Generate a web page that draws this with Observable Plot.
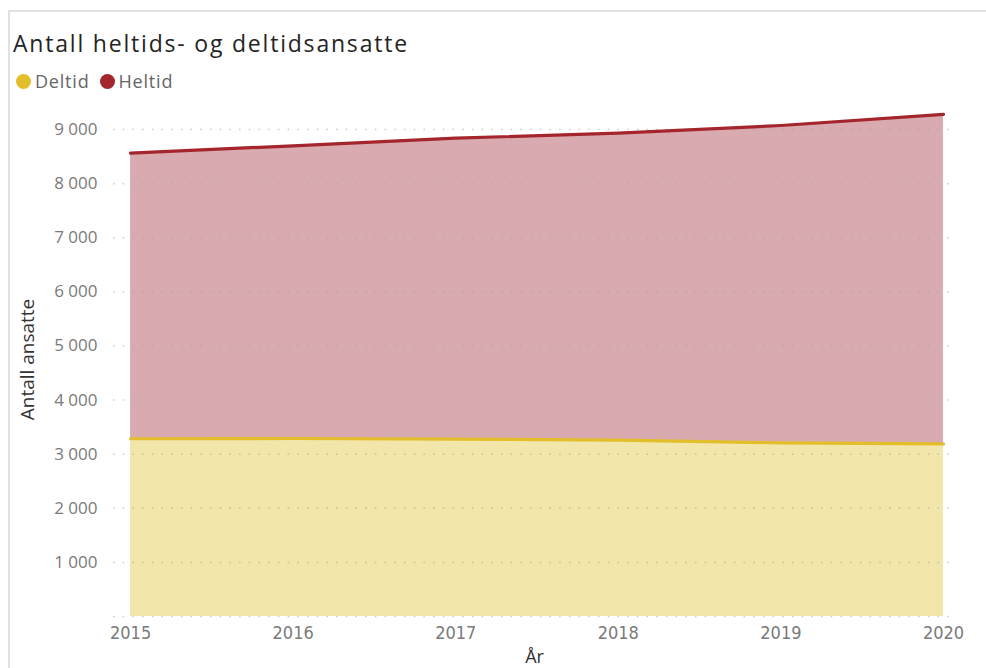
<!DOCTYPE html>
<html>
<head>
<meta charset="utf-8">
<script src="https://cdn.jsdelivr.net/npm/d3@7"></script>
<script src="https://cdn.jsdelivr.net/npm/@observablehq/plot@0.6"></script>
<style>
  html, body { margin: 0; padding: 0; background: #fff; }
  #wrap { position: relative; width: 986px; height: 668px; overflow: hidden; font-family: "Open Sans", sans-serif; }
  #frame { position: absolute; left: 8px; top: 10px; width: 990px; height: 670px; border-left: 2px solid #e0e0e0; border-top: 2px solid #e0e0e0; box-sizing: border-box; pointer-events: none; }
  #title { position: absolute; left: 13px; top: 27px; font-size: 23px; letter-spacing: 1.8px; color: #252423; white-space: nowrap; }
  #legend { position: absolute; left: 16px; top: 69px; font-size: 18px; letter-spacing: 0.8px; color: #666; display: flex; align-items: center; }
  #legend .dot { width: 15px; height: 15px; border-radius: 50%; display: inline-block; }
  #legend .item { display: flex; align-items: center; gap: 4px; margin-right: 10px; }
  #chart { position: absolute; left: 0; top: 0; }
</style>
</head>
<body>
<div id="wrap">
  <div id="chart"></div>
  <div id="frame"></div>
  <div id="title">Antall heltids- og deltidsansatte</div>
  <div id="legend"></div>
</div>
<script>
const years = [2015, 2016, 2017, 2018, 2019, 2020];
const deltid = [3285, 3290, 3280, 3260, 3210, 3190];
const heltid = [5280, 5410, 5560, 5675, 5865, 6090];
const seriesNames = ["Deltid", "Heltid"];
const lineColors = ["#E3BE2B", "#A4262C"];
const fillColors = ["#F2E6AB", "#D9ABB1"];
const yTicks = [0, 1000, 2000, 3000, 4000, 5000, 6000, 7000, 8000, 9000];

const data = [];
years.forEach((yr, i) => data.push({year: yr, series: "Deltid", value: deltid[i]}));
years.forEach((yr, i) => data.push({year: yr, series: "Heltid", value: heltid[i]}));

const fmt = d3.formatLocale({thousands: "\u00a0", grouping: [3], decimal: ","}).format(",");
const idx = d => seriesNames.indexOf(d.series);

// legend
const legend = document.getElementById("legend");
seriesNames.forEach((s, i) => {
  const item = document.createElement("span");
  item.className = "item";
  item.innerHTML = `<span class="dot" style="background:${lineColors[i]}"></span><span>${s}</span>`;
  legend.appendChild(item);
});

const chart = Plot.plot({
  width: 986,
  height: 668,
  marginLeft: 113,
  marginRight: 31,
  marginTop: 102,
  marginBottom: 52,
  style: {fontFamily: "'Open Sans', sans-serif", background: "transparent"},
  x: {domain: [2014.895, 2020.074]},
  y: {domain: [0, 9500]},
  marks: [
    Plot.areaY(data, Plot.stackY({x: "year", y: "value", z: "series", fill: {value: d => fillColors[idx(d)], scale: null}, order: null})),
    Plot.ruleY(yTicks, {stroke: "#a0a0a0", strokeOpacity: 0.55, strokeWidth: 1.5, strokeDasharray: "1.5 8.2"}),
    Plot.lineY(data, Plot.stackY2({x: "year", y: "value", z: "series", stroke: {value: d => lineColors[idx(d)], scale: null}, order: null, strokeWidth: 3.2, strokeLinecap: "round"})),
    Plot.axisX(years, {
      tickSize: 0, tickPadding: 10, tickFormat: d => String(d),
      fontSize: 18, fill: "#7a7a7a", fontFamily: "'DejaVu Sans Condensed', 'Liberation Sans Narrow', sans-serif",
      label: null
    }),
    Plot.axisX({
      ticks: [], label: "År", labelAnchor: "center", labelArrow: "none", labelOffset: 46,
      fontSize: 18, fill: "#333"
    }),
    Plot.axisY(yTicks.filter(d => d > 0), {
      tickSize: 0, tickPadding: 16, tickFormat: fmt,
      fontSize: 17, fill: "#7a7a7a",
      label: null
    }),
    Plot.axisY({
      ticks: [], label: "Antall ansatte", labelAnchor: "center", labelArrow: "none", labelOffset: 93,
      fontSize: 19, fill: "#333"
    })
  ]
});

document.getElementById("chart").appendChild(chart);
</script>
</body>
</html>
